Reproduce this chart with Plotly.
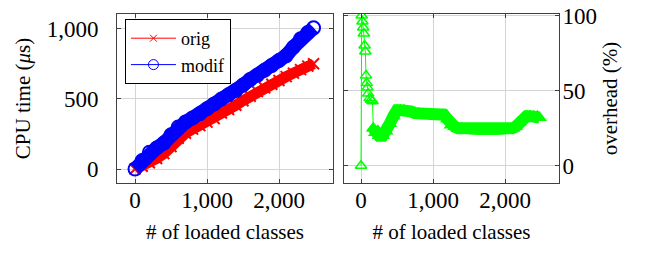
import plotly.graph_objects as go

# ---- data ----
classes = [0, 100, 200, 300, 400, 500, 600, 700, 800, 900, 1000, 1100, 1200,
           1300, 1400, 1500, 1600, 1700, 1800, 1900, 2000, 2100, 2200, 2300, 2400, 2480]
orig = [0, 20, 45, 75, 110, 160, 220, 255, 285, 310, 335, 360, 400,
        425, 455, 488, 520, 553, 580, 605, 632, 660, 685, 710, 735, 752]
modif = [0, 60, 120, 150, 185, 245, 300, 335, 365, 395, 430, 465, 500,
         530, 560, 600, 640, 670, 705, 740, 775, 810, 870, 930, 975, 1008]

overhead_classes = [0, 10, 20, 30, 40, 50, 60, 70, 80, 90, 100, 120, 140, 160, 170,
                    200, 250, 300, 350, 400, 450, 500, 550, 600, 650, 700, 750, 800,
                    850, 900, 950, 1000, 1050, 1100, 1150, 1200, 1250, 1300, 1350,
                    1400, 1450, 1500, 1550, 1600, 1650, 1700, 1750, 1800, 1850, 1900,
                    1950, 2000, 2050, 2100, 2150, 2200, 2250, 2300, 2350, 2400, 2450, 2480]
overhead = [0, 100, 96, 92, 88, 80, 76, 60, 55, 52, 48, 45, 44, 43, 25,
            22, 20, 20, 23, 28, 33, 37, 37, 37, 36, 36, 35, 35,
            34, 34, 34, 34, 33, 33, 34, 31, 27, 26, 25,
            25, 24, 24, 24, 23, 23, 23, 23, 23, 23, 23,
            24, 24, 24, 25, 26, 29, 32, 33, 33, 33, 33, 32]

x_tickvals = [0, 1000, 2000]
x_ticktext = ["0", "1,000", "2,000"]
cpu_tickvals = [0, 500, 1000]
cpu_ticktext = ["0", "500", "1,000"]
ovh_tickvals = [0, 50, 100]
ovh_ticktext = ["0", "50", "100"]

RED, BLUE, GREEN = "#ff0000", "#0000ff", "#00ff00"
FONT = "Liberation Serif, Times New Roman, serif"

fig = go.Figure()

# left panel: data bands
fig.add_trace(go.Scatter(x=classes, y=orig, mode="lines+markers", showlegend=False,
                         line=dict(color=RED, width=11),
                         marker=dict(symbol="x-thin-open", size=11, color=RED,
                                     line=dict(color=RED, width=2)),
                         xaxis="x", yaxis="y"))
fig.add_trace(go.Scatter(x=classes, y=modif, mode="lines+markers", showlegend=False,
                         line=dict(color=BLUE, width=14),
                         marker=dict(symbol="circle-open", size=13, color=BLUE,
                                     line=dict(color=BLUE, width=2)),
                         xaxis="x", yaxis="y"))
# legend entries
fig.add_trace(go.Scatter(x=[None], y=[None], mode="lines+markers", name="orig",
                         line=dict(color=RED, width=1),
                         marker=dict(symbol="x-thin-open", size=7, color=RED,
                                     line=dict(color=RED, width=1)),
                         xaxis="x", yaxis="y"))
fig.add_trace(go.Scatter(x=[None], y=[None], mode="lines+markers", name="modif",
                         line=dict(color=BLUE, width=1),
                         marker=dict(symbol="circle-open", size=10, color=BLUE,
                                     line=dict(color=BLUE, width=1)),
                         xaxis="x", yaxis="y"))

# right panel: overhead (thin spike part and dense band part)
fig.add_trace(go.Scatter(x=overhead_classes[:15], y=overhead[:15], mode="lines+markers",
                         showlegend=False, line=dict(color=GREEN, width=1),
                         marker=dict(symbol="triangle-up-open", size=10, color=GREEN,
                                     line=dict(color=GREEN, width=1.5)),
                         xaxis="x2", yaxis="y2"))
fig.add_trace(go.Scatter(x=overhead_classes[14:], y=overhead[14:], mode="lines+markers",
                         showlegend=False, line=dict(color=GREEN, width=12),
                         marker=dict(symbol="triangle-up", size=13, color=GREEN),
                         xaxis="x2", yaxis="y2"))

axis_common = dict(showline=True, linecolor="#404040", linewidth=1, mirror="allticks",
                   ticks="inside", ticklen=4, tickcolor="#404040",
                   showgrid=True, gridcolor="#d4d4d4", gridwidth=1, zeroline=False,
                   tickfont=dict(family=FONT, size=23, color="black"),
                   tickmode="array")

fig.update_layout(
    width=649, height=257,
    margin=dict(l=117, r=90, t=14, b=74, autoexpand=False),
    plot_bgcolor="white", paper_bgcolor="white",
    font=dict(family=FONT, size=20, color="black"),
    xaxis=dict(axis_common, domain=[0, 0.4887], range=[-250, 2750],
               tickvals=x_tickvals, ticktext=x_ticktext, ticklabelstandoff=-4,
               title=dict(text="# of loaded classes", standoff=12,
                          font=dict(family=FONT, size=21))),
    yaxis=dict(axis_common, domain=[0, 1], range=[-100, 1107],
               tickvals=cpu_tickvals, ticktext=cpu_ticktext, ticklabelstandoff=13,
               title=dict(text="CPU time (<i>μ</i>s)", standoff=10,
                          font=dict(family=FONT, size=21))),
    xaxis2=dict(axis_common, domain=[0.5136, 1.0], range=[-236, 2750], anchor="y2",
                tickvals=x_tickvals, ticktext=x_ticktext, ticklabelstandoff=-4,
                title=dict(text="# of loaded classes", standoff=12,
                           font=dict(family=FONT, size=21))),
    yaxis2=dict(axis_common, domain=[0, 1], range=[-11.5, 101], anchor="x2", side="right",
                tickvals=ovh_tickvals, ticktext=ovh_ticktext,
                ticklabelposition="outside", ticklabelstandoff=-2,
                title=dict(text="overhead (%)", standoff=6,
                           font=dict(family=FONT, size=21))),
    legend=dict(x=0.018, y=0.9704, xanchor="left", yanchor="top",
                bordercolor="black", borderwidth=1, bgcolor="white",
                font=dict(family=FONT, size=18), itemwidth=45,
                tracegroupgap=0),
)

fig.write_html("out.html", config={"displayModeBar": False},
               post_script="document.body.style.margin='0';")
